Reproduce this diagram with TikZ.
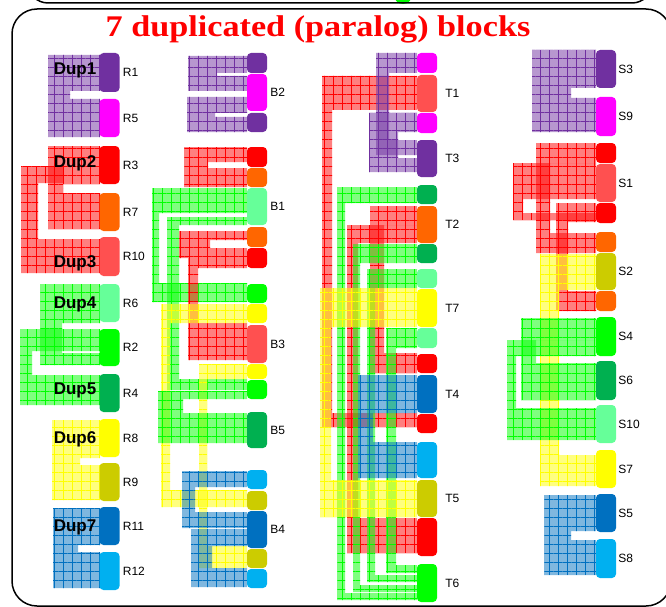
\documentclass[tikz,border=0pt]{standalone}
\usepackage{fontspec}
\setmainfont{Liberation Serif}
\setsansfont{Liberation Sans}
\usepackage{graphicx}
\usetikzlibrary{patterns.meta}

\definecolor{cpurple}{HTML}{7030A0}
\definecolor{cmagenta}{HTML}{FF00FF}
\definecolor{cred}{HTML}{FF0000}
\definecolor{corange}{HTML}{FF6600}
\definecolor{csalmon}{HTML}{FF5050}
\definecolor{clgreen}{HTML}{66FF99}
\definecolor{cgreen}{HTML}{00FF00}
\definecolor{cdgreen}{HTML}{00B050}
\definecolor{cyellow}{HTML}{FFFF00}
\definecolor{colive}{HTML}{CCCC00}
\definecolor{cdblue}{HTML}{0070C0}
\definecolor{clblue}{HTML}{00B0F0}

\begin{document}
\begin{tikzpicture}[x=1pt,y=-1pt,
    seg/.style={fill=#1,rounded corners=4pt,minimum width=20pt,inner sep=0pt},
    lbl/.style={font=\sffamily\fontsize{12}{12}\selectfont,inner sep=1pt},
    dup/.style={font=\sffamily\bfseries\fontsize{17}{17}\selectfont,inner sep=0pt,anchor=base},
    band/.style={fill=#1,fill opacity=0.5,
        postaction={pattern={Hatch[distance=9pt,line width=0.4pt]},pattern color=#1}}]
    \useasboundingbox (0,0) rectangle (666,607);

    \fill[cgreen] (403,-5) circle (9);
    \draw[line width=1.5pt,rounded corners=20pt] (28,-60) rectangle (652,3);
    \draw[line width=1.5pt,rounded corners=25pt] (12,9) rectangle (671,606);
    \node[anchor=base,text=red,font=\bfseries\fontsize{30}{30}\selectfont] (title) at (318,37)
        {\scalebox{1.14}[1]{7 duplicated (paralog) blocks}};

    % bands, left column
    \path[band=cpurple] (48,55) rectangle (100,91) (48,99) rectangle (100,137) (48,55) rectangle (70,137);
    \path[band=cred] (48,146) rectangle (100,184) (48,193) rectangle (100,229) (48,146) rectangle (63,229);
    \path[band=cred] (21,166) rectangle (63,183) (21,166) rectangle (38,273) (21,239) rectangle (100,273);
    \path[band=cgreen] (40,284) rectangle (100,323) (40,284) rectangle (62,365) (40,353) rectangle (100,365);
    \path[band=cgreen] (20,329) rectangle (100,351) (20,329) rectangle (32,405) (20,375) rectangle (100,405);
    \path[band=cyellow] (52,420) rectangle (100,458) (52,465) rectangle (100,500) (52,420) rectangle (80,500);
    \path[band=cdblue] (53,508) rectangle (100,545) (53,552) rectangle (100,588) (53,508) rectangle (78,588);

    % bands, B column
    \path[band=cpurple] (188,56) rectangle (247,73) (188,76) rectangle (247,91) (188,56) rectangle (217,91);
    \path[band=cpurple] (187,97) rectangle (247,113) (187,117) rectangle (247,132) (187,97) rectangle (215,132);
    \path[band=cred] (184,147) rectangle (247,162) (184,168) rectangle (247,187) (184,147) rectangle (208,187);
    \path[band=cgreen] (152,188) rectangle (247,213) (152,188) rectangle (159,302) (152,283) rectangle (247,302);
    \path[band=cgreen] (167,217) rectangle (247,225) (167,217) rectangle (179,390) (167,379) rectangle (247,390);
    \path[band=cred] (179,231) rectangle (247,240) (179,248) rectangle (247,258) (179,231) rectangle (210,258)
        (188,258) rectangle (247,268) (188,258) rectangle (198,323) (188,323) rectangle (247,360);
    \path[band=cyellow] (161,304) rectangle (247,323) (161,304) rectangle (170,507) (161,490) rectangle (247,507);
    \path[band=cyellow] (199,364) rectangle (247,379) (199,364) rectangle (207,568) (199,546) rectangle (247,568);
    \path[band=cgreen] (158,391) rectangle (247,399) (158,391) rectangle (183,443) (158,413) rectangle (247,443);
    \path[band=cdblue] (182,471) rectangle (247,487) (182,512) rectangle (247,528) (182,471) rectangle (195,528);
    \path[band=cdblue] (191,529) rectangle (247,546) (191,568) rectangle (247,587) (191,529) rectangle (212,587);

    % bands, T column
    \path[band=cred] (322,76) rectangle (417,110) (322,76) rectangle (332,427) (322,413) rectangle (417,427);
    \path[band=cpurple] (376,53) rectangle (417,73) (376,53) rectangle (389,155) (376,140) rectangle (417,155);
    \path[band=cpurple] (369,113) rectangle (417,132) (369,113) rectangle (398,172) (369,158) rectangle (417,172);
    \path[band=cgreen] (337,187) rectangle (417,203) (337,187) rectangle (345,600) (337,593) rectangle (417,600);
    \path[band=cred] (370,206) rectangle (417,225) (370,206) rectangle (384,373) (370,353) rectangle (417,373);
    \path[band=cred] (347,225) rectangle (417,243) (347,225) rectangle (358,553) (347,518) rectangle (417,553);
    \path[band=cgreen] (353,244) rectangle (417,263) (353,244) rectangle (360,592) (353,585) rectangle (417,592);
    \path[band=cgreen] (367,269) rectangle (417,288) (367,269) rectangle (375,582) (367,575) rectangle (417,582);
    \path[band=cgreen] (386,328) rectangle (417,348) (386,328) rectangle (396,573) (386,565) rectangle (417,573);
    \path[band=cyellow] (320,288) rectangle (417,327) (320,288) rectangle (331,517) (320,480) rectangle (417,517);
    \path[band=cdblue] (358,375) rectangle (417,413) (358,375) rectangle (373,478) (358,442) rectangle (417,478);

    % bands, S column
    \path[band=cpurple] (532,50) rectangle (596,88) (532,98) rectangle (596,132) (532,50) rectangle (571,132);
    \path[band=cred] (536,143) rectangle (596,163) (536,143) rectangle (550,253) (536,233) rectangle (596,253);
    \path[band=cred] (513,163) rectangle (596,199) (513,163) rectangle (523,218) (513,213) rectangle (596,220);
    \path[band=cred] (556,203) rectangle (596,222) (556,203) rectangle (568,311) (556,291) rectangle (596,311);
    \path[band=cyellow] (540,254) rectangle (596,290) (540,254) rectangle (559,486) (540,455) rectangle (596,486);
    \path[band=cgreen] (521,318) rectangle (596,340) (521,318) rectangle (536,400) (521,363) rectangle (596,400);
    \path[band=cgreen] (507,340) rectangle (596,356) (507,340) rectangle (516,440) (507,408) rectangle (596,440);
    \path[band=cdblue] (544,495) rectangle (596,531) (544,540) rectangle (596,575) (544,495) rectangle (571,575);

    % segments
    \begin{scope}[label distance=2pt]
    \node[seg=cpurple,minimum height=39pt,label={[lbl]right:R1}] (R1) at (109.5,72.5) {};
    \node[seg=cmagenta,minimum height=38pt,label={[lbl]right:R5}] (R5) at (109.5,118) {};
    \node[seg=cred,minimum height=38pt,label={[lbl]right:R3}] (R3) at (109.5,165) {};
    \node[seg=corange,minimum height=38pt,label={[lbl]right:R7}] (R7) at (109.5,212) {};
    \node[seg=csalmon,minimum height=39pt,label={[lbl]right:R10}] (R10) at (109.5,256.5) {};
    \node[seg=clgreen,minimum height=38pt,label={[lbl]right:R6}] (R6) at (109.5,303) {};
    \node[seg=cgreen,minimum height=37pt,label={[lbl]right:R2}] (R2) at (109.5,347.5) {};
    \node[seg=cdgreen,minimum height=38pt,label={[lbl]right:R4}] (R4) at (109.5,393) {};
    \node[seg=cyellow,minimum height=38pt,label={[lbl]right:R8}] (R8) at (109.5,438) {};
    \node[seg=colive,minimum height=38pt,label={[lbl]right:R9}] (R9) at (109.5,482) {};
    \node[seg=cdblue,minimum height=38pt,label={[lbl]right:R11}] (R11) at (109.5,526) {};
    \node[seg=clblue,minimum height=38pt,label={[lbl]right:R12}] (R12) at (109.5,571) {};

    \node[seg=cpurple,minimum height=20pt] (bb1) at (257,63) {};
    \node[seg=cmagenta,minimum height=37pt,label={[lbl]right:B2}] (B2) at (257,92.5) {};
    \node[seg=cpurple,minimum height=19pt] (bb2) at (257,122.5) {};
    \node[seg=cred,minimum height=20pt] (bb3) at (257,157) {};
    \node[seg=corange,minimum height=19pt] (bb4) at (257,177.5) {};
    \node[seg=clgreen,minimum height=37pt,label={[lbl]right:B1}] (B1) at (257,206.5) {};
    \node[seg=corange,minimum height=20pt] (bb5) at (257,237) {};
    \node[seg=cred,minimum height=20pt] (bb6) at (257,258) {};
    \node[seg=cgreen,minimum height=19pt] (bb7) at (257,293.5) {};
    \node[seg=cyellow,minimum height=19pt] (bb8) at (257,313.5) {};
    \node[seg=csalmon,minimum height=38pt,label={[lbl]right:B3}] (B3) at (257,344) {};
    \node[seg=cyellow,minimum height=15pt] (bb9) at (257,371.5) {};
    \node[seg=cgreen,minimum height=19pt] (bb10) at (257,389.5) {};
    \node[seg=cdgreen,minimum height=36pt,label={[lbl]right:B5}] (B5) at (257,430) {};
    \node[seg=clblue,minimum height=19pt] (bb11) at (257,479.5) {};
    \node[seg=colive,minimum height=19pt] (bb12) at (257,500.5) {};
    \node[seg=cdblue,minimum height=37pt,label={[lbl]right:B4}] (B4) at (257,529.5) {};
    \node[seg=colive,minimum height=19pt] (bb13) at (257,558.5) {};
    \node[seg=clblue,minimum height=19pt] (bb14) at (257,578.5) {};
    \end{scope}

    \begin{scope}[label distance=7pt]
    \node[seg=cmagenta,minimum height=20pt] (tt1) at (427,63) {};
    \node[seg=csalmon,minimum height=37pt,label={[lbl]right:T1}] (T1) at (427,93.5) {};
    \node[seg=cmagenta,minimum height=20pt] (tt2) at (427,123) {};
    \node[seg=cpurple,minimum height=37pt,label={[lbl]right:T3}] (T3) at (427,158.5) {};
    \node[seg=cdgreen,minimum height=19pt] (tt3) at (427,194.5) {};
    \node[seg=corange,minimum height=37pt,label={[lbl]right:T2}] (T2) at (427,224.5) {};
    \node[seg=cdgreen,minimum height=19pt] (tt4) at (427,253.5) {};
    \node[seg=clgreen,minimum height=19pt] (tt5) at (427,278.5) {};
    \node[seg=cyellow,minimum height=38pt,label={[lbl]right:T7}] (T7) at (427,308) {};
    \node[seg=clgreen,minimum height=20pt] (tt6) at (427,338) {};
    \node[seg=cred,minimum height=19pt] (tt7) at (427,363.5) {};
    \node[seg=cdblue,minimum height=38pt,label={[lbl]right:T4}] (T4) at (427,394) {};
    \node[seg=cred,minimum height=19pt] (tt8) at (427,423.5) {};
    \node[seg=clblue,minimum height=36pt] (tt9) at (427,460) {};
    \node[seg=colive,minimum height=37pt,label={[lbl]right:T5}] (T5) at (427,498.5) {};
    \node[seg=cred,minimum height=38pt] (tt10) at (427,537) {};
    \node[seg=cgreen,minimum height=38pt,label={[lbl]right:T6}] (T6) at (427,583) {};
    \end{scope}

    \begin{scope}[label distance=1pt]
    \node[seg=cpurple,minimum height=38pt,label={[lbl]right:S3}] (S3) at (606,69) {};
    \node[seg=cmagenta,minimum height=39pt,label={[lbl]right:S9}] (S9) at (606,116.5) {};
    \node[seg=cred,minimum height=20pt] (ss1) at (606,153) {};
    \node[seg=csalmon,minimum height=38pt,label={[lbl]right:S1}] (S1) at (606,183) {};
    \node[seg=cred,minimum height=20pt] (ss2) at (606,213) {};
    \node[seg=corange,minimum height=20pt] (ss3) at (606,242) {};
    \node[seg=colive,minimum height=37pt,label={[lbl]right:S2}] (S2) at (606,271.5) {};
    \node[seg=corange,minimum height=20pt] (ss4) at (606,301) {};
    \node[seg=cgreen,minimum height=39pt,label={[lbl]right:S4}] (S4) at (606,336.5) {};
    \node[seg=cdgreen,minimum height=39pt,label={[lbl]right:S6}] (S6) at (606,380.5) {};
    \node[seg=clgreen,minimum height=38pt,label={[lbl]right:S10}] (S10) at (606,424) {};
    \node[seg=cyellow,minimum height=38pt,label={[lbl]right:S7}] (S7) at (606,469) {};
    \node[seg=cdblue,minimum height=38pt,label={[lbl]right:S5}] (S5) at (606,513) {};
    \node[seg=clblue,minimum height=39pt,label={[lbl]right:S8}] (S8) at (606,558.5) {};
    \end{scope}

    \node[dup] (dup1) at (75,75) {Dup1};
    \node[dup] (dup2) at (75,167) {Dup2};
    \node[dup] (dup3) at (75,267) {Dup3};
    \node[dup] (dup4) at (75,308) {Dup4};
    \node[dup] (dup5) at (75,394) {Dup5};
    \node[dup] (dup6) at (75,443) {Dup6};
    \node[dup] (dup7) at (75,531) {Dup7};
\end{tikzpicture}
\end{document}
